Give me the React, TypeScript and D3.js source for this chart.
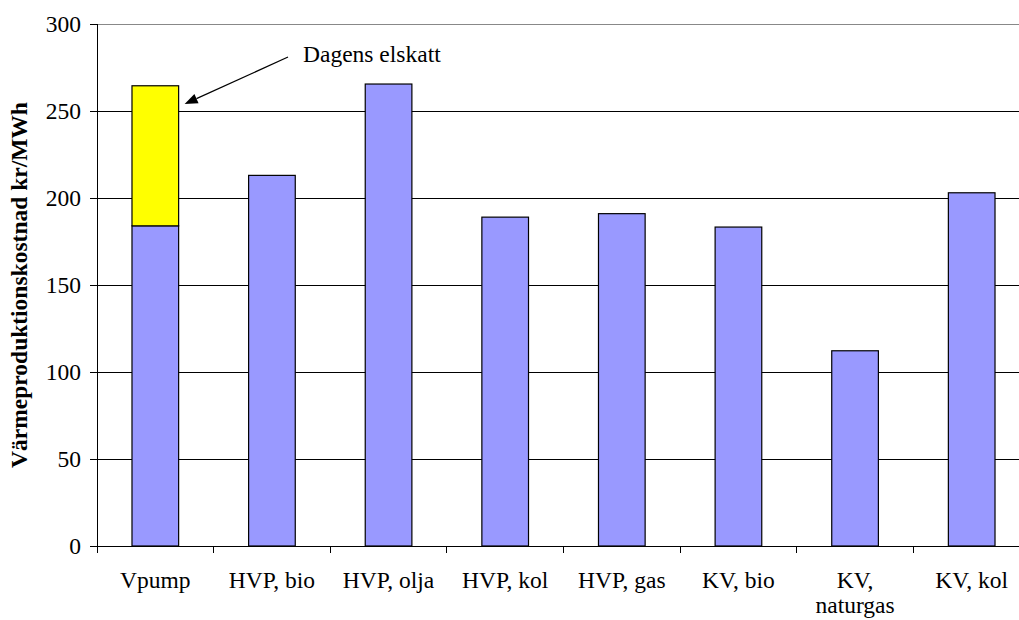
import React from "react";
import * as d3 from "d3";

const categories: string[][] = [
  ["Vpump"],
  ["HVP, bio"],
  ["HVP, olja"],
  ["HVP, kol"],
  ["HVP, gas"],
  ["KV, bio"],
  ["KV,", "naturgas"],
  ["KV, kol"],
];
const baseValues: number[] = [184, 213, 265.5, 189, 191, 183.3, 112.2, 203];
const elskattValues: number[] = [80.5, 0, 0, 0, 0, 0, 0, 0];
const yTicks: number[] = [0, 50, 100, 150, 200, 250, 300];
const yTitle = "Värmeproduktionskostnad kr/MWh";
const annotation = "Dagens elskatt";

const W = 1019;
const H = 620;
const left = 97;
const right = 1030;
const top = 24;
const bottom = 546;
const FONT = "'Liberation Serif', 'Times New Roman', serif";
const FS = 23.5;

export default function App() {
  const x = d3
    .scaleBand<number>()
    .domain(categories.map((_, i) => i))
    .range([left, right])
    .paddingInner(0.6)
    .paddingOuter(0.3);
  const step = (right - left) / categories.length;
  const y = d3.scaleLinear().domain([0, 300]).range([bottom, top]);

  const arrowTip = { x: x(0)! + x.bandwidth() + 6, y: y(254) };
  const arrowStart = { x: 288, y: 57 };
  const ang = Math.atan2(arrowTip.y - arrowStart.y, arrowTip.x - arrowStart.x);
  const ahLen = 13;
  const ahW = 5;
  const bx = arrowTip.x - ahLen * Math.cos(ang);
  const by = arrowTip.y - ahLen * Math.sin(ang);
  const px = -Math.sin(ang) * ahW;
  const py = Math.cos(ang) * ahW;

  return (
    <svg
      width={W}
      height={H}
      style={{ position: "absolute", left: 0, top: 0, display: "block", background: "#fff" }}
      fontFamily={FONT}
    >
      {yTicks
        .filter((t) => t > 0)
        .map((t) => (
          <line
            key={"g" + t}
            x1={left}
            x2={right}
            y1={y(t)}
            y2={y(t)}
            stroke={t === 300 ? "#888" : "#000"}
            strokeWidth={1}
            shapeRendering="crispEdges"
          />
        ))}
      {baseValues.map((v, i) => (
        <g key={"b" + i}>
          <rect
            x={x(i)!}
            y={y(v)}
            width={x.bandwidth()}
            height={y(0) - y(v)}
            fill="#9999FF"
            stroke="#000"
            strokeWidth={1.2}
          />
          {elskattValues[i] > 0 && (
            <rect
              x={x(i)!}
              y={y(v + elskattValues[i])}
              width={x.bandwidth()}
              height={y(v) - y(v + elskattValues[i])}
              fill="#FFFF00"
              stroke="#000"
              strokeWidth={1.2}
            />
          )}
        </g>
      ))}
      <line x1={left} x2={left} y1={top} y2={bottom + 7} stroke="#000" strokeWidth={1} shapeRendering="crispEdges" />
      <line x1={left - 7} x2={right} y1={bottom} y2={bottom} stroke="#000" strokeWidth={1} shapeRendering="crispEdges" />
      {yTicks.map((t) => (
        <g key={"yt" + t}>
          <line x1={left - 7} x2={left} y1={y(t)} y2={y(t)} stroke="#000" shapeRendering="crispEdges" />
          <text x={left - 16} y={y(t)} dy="0.34em" textAnchor="end" fontSize={FS} fill="#000">
            {t}
          </text>
        </g>
      ))}
      {categories.map((_, i) => (
        <line
          key={"xt" + i}
          x1={left + step * (i + 1)}
          x2={left + step * (i + 1)}
          y1={bottom}
          y2={bottom + 7}
          stroke="#000"
          shapeRendering="crispEdges"
        />
      ))}
      {categories.map((lines, i) => (
        <text
          key={"xl" + i}
          x={x(i)! + x.bandwidth() / 2}
          y={588}
          textAnchor="middle"
          fontSize={FS}
          fill="#000"
        >
          {lines.map((l, j) => (
            <tspan key={j} x={x(i)! + x.bandwidth() / 2} dy={j === 0 ? 0 : 25}>
              {l}
            </tspan>
          ))}
        </text>
      ))}
      <text
        transform={`translate(27, ${(top + bottom) / 2}) rotate(-90)`}
        textAnchor="middle"
        fontSize={FS}
        fontWeight="bold"
        fill="#000"
      >
        {yTitle}
      </text>
      <line x1={arrowStart.x} y1={arrowStart.y} x2={bx} y2={by} stroke="#000" strokeWidth={1.2} />
      <polygon
        points={`${arrowTip.x},${arrowTip.y} ${bx + px},${by + py} ${bx - px},${by - py}`}
        fill="#000"
      />
      <text x={303} y={62} fontSize={FS} fill="#000">
        {annotation}
      </text>
    </svg>
  );
}
